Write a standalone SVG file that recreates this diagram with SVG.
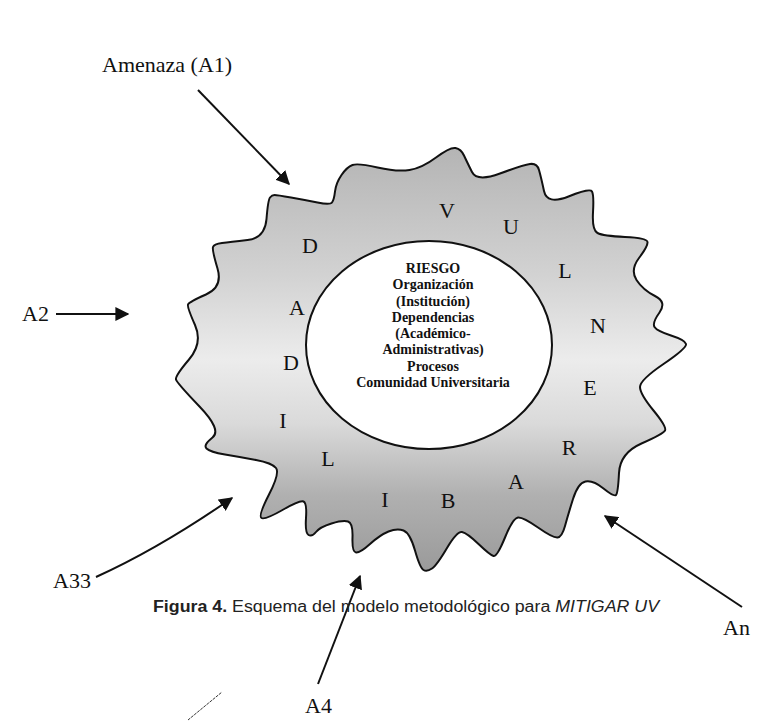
<svg xmlns="http://www.w3.org/2000/svg" width="767" height="723" viewBox="0 0 767 723">
<style>
.lbl{font-family:"Liberation Serif","Times New Roman",serif;font-size:22px;fill:#111}
.let{font-family:"Liberation Serif","Times New Roman",serif;font-size:22px;fill:#111;text-anchor:middle}
.ctr{font-family:"Liberation Serif","Times New Roman",serif;font-size:14px;font-weight:bold;fill:#111;text-anchor:middle}
.cap{font-family:"Liberation Sans",Arial,sans-serif;font-size:16px;fill:#222}
.arr{stroke:#111;stroke-width:2;fill:none;marker-end:url(#ah)}
</style>
<defs>
<marker id="ah" viewBox="0 0 10 10" refX="9" refY="5" markerWidth="7" markerHeight="7" orient="auto" markerUnits="strokeWidth">
<path d="M0,0 L10,5 L0,10 z" fill="#111"/>
</marker>
<linearGradient id="g" x1="0" y1="147" x2="0" y2="572" gradientUnits="userSpaceOnUse">
<stop offset="0" stop-color="#b4b4b4"/>
<stop offset="0.3" stop-color="#d2d2d2"/>
<stop offset="0.5" stop-color="#ececec"/>
<stop offset="0.65" stop-color="#dadada"/>
<stop offset="0.82" stop-color="#b0b0b0"/>
<stop offset="1" stop-color="#9a9a9a"/>
</linearGradient>
</defs>
<rect width="767" height="723" fill="#ffffff"/>
<g id="blob">
<path d="M247.5,240 Q265,238 266.5,219 Q268,200 270,197.5 Q272,195 274.5,195 Q277,195 291,197.5 Q305,200 317.5,202.5 Q330,205 332,202.5 Q334,200 335,191.5 Q336,183 341.5,175 Q347,167 352.5,165 Q358,163 377.5,167.5 Q397,172 409.5,170 Q422,168 436,157.5 Q450,147 455.5,148 Q461,149 464,155.5 Q467,162 472,172 Q477,182 500,173.5 Q523,165 530,164 Q537,163 539,170 Q541,177 544,191 Q547,205 568.5,196.5 Q590,188 592,191.5 Q594,195 593,212.5 Q592,230 597.5,233 Q603,236 625,237 Q647,238 647.5,242 Q648,246 639,258 Q630,270 636.5,280 Q643,290 655,296 Q667,302 659.5,312.5 Q652,323 654.5,327 Q657,331 671,335.5 Q685,340 686,344 Q687,348 663.5,364 Q640,380 640,387 Q640,394 653.5,410.5 Q667,427 665,430.5 Q663,434 641.5,443.5 Q620,453 619,473 Q618,493 616,495 Q614,497 603.5,488.5 Q593,480 585.5,481.5 Q578,483 573,499 Q568,515 565,526 Q562,537 557.5,537.5 Q553,538 538,527.5 Q523,517 518,517.5 Q513,518 505,537.5 Q497,557 493.5,556 Q490,555 478.5,544 Q467,533 462,532 Q457,531 447,548 Q437,565 432,568.5 Q427,572 423.5,570 Q420,568 415,550.5 Q410,533 403.5,530.5 Q397,528 388.5,531.5 Q380,535 370,544 Q360,553 356,552.5 Q352,552 352.5,537.5 Q353,523 348,521.5 Q343,520 331.5,523.5 Q320,527 316,532 Q312,537 308.5,535 Q305,533 306,518 Q307,503 303.5,501.5 Q300,500 282.5,510 Q265,520 261.5,518 Q258,516 269,494.5 Q280,473 276,468 Q272,463 256,460 Q240,457 225,454.5 Q210,452 206.5,448.5 Q203,445 212.5,437.5 Q222,430 199.5,406.5 Q177,383 176,379.5 Q175,376 189,359.5 Q203,343 195,325 Q187,307 188,304.5 Q189,302 206,294.5 Q223,287 217.5,268.5 Q212,250 213,247 Q214,244 222,243 Q230,242 247.5,240 Z" fill="url(#g)" stroke="#111" stroke-width="2" stroke-linejoin="round"/>
</g>
<g id="letters">
<text class="let" x="310" y="253">D</text>
<text class="let" x="447" y="218">V</text>
<text class="let" x="511" y="234">U</text>
<text class="let" x="565" y="278">L</text>
<text class="let" x="297" y="315">A</text>
<text class="let" x="598" y="333">N</text>
<text class="let" x="291" y="370">D</text>
<text class="let" x="590" y="395">E</text>
<text class="let" x="283" y="428">I</text>
<text class="let" x="569" y="455">R</text>
<text class="let" x="328" y="466">L</text>
<text class="let" x="516" y="489">A</text>
<text class="let" x="385" y="507">I</text>
<text class="let" x="448" y="508">B</text>
</g>
<g id="riesgo">
<ellipse cx="429" cy="345" rx="123" ry="104" fill="#ffffff" stroke="#111" stroke-width="2"/>
<text class="ctr" x="433" y="273">RIESGO</text>
<text class="ctr" x="433" y="289">Organización</text>
<text class="ctr" x="433" y="306">(Institución)</text>
<text class="ctr" x="433" y="322">Dependencias</text>
<text class="ctr" x="433" y="338">(Académico-</text>
<text class="ctr" x="433" y="354">Administrativas)</text>
<text class="ctr" x="433" y="371">Procesos</text>
<text class="ctr" x="433" y="387">Comunidad Universitaria</text>
</g>
<g id="labels">
<text class="lbl" x="102" y="72">Amenaza (A1)</text>
<text class="lbl" x="22" y="321">A2</text>
<text class="lbl" x="53" y="588">A33</text>
<text class="lbl" x="723" y="635">An</text>
<text class="lbl" x="305" y="713">A4</text>
</g>
<g id="connectors">
<line class="arr" x1="198" y1="90" x2="289" y2="184"/>
<line class="arr" x1="56" y1="314" x2="128" y2="314"/>
<path class="arr" d="M96,577 Q160,548 232,498"/>
<line class="arr" x1="742" y1="607" x2="605" y2="516"/>
<line class="arr" x1="318" y1="684" x2="360" y2="576"/>
<line x1="188" y1="720" x2="222" y2="692" stroke="#333" stroke-width="1" stroke-dasharray="3,1"/>
</g>
<g id="caption">
<text class="cap" x="153" y="612" textLength="506" lengthAdjust="spacingAndGlyphs"><tspan font-weight="bold">Figura 4.</tspan> Esquema del modelo metodológico para <tspan font-style="italic">MITIGAR UV</tspan></text>
</g>
</svg>
